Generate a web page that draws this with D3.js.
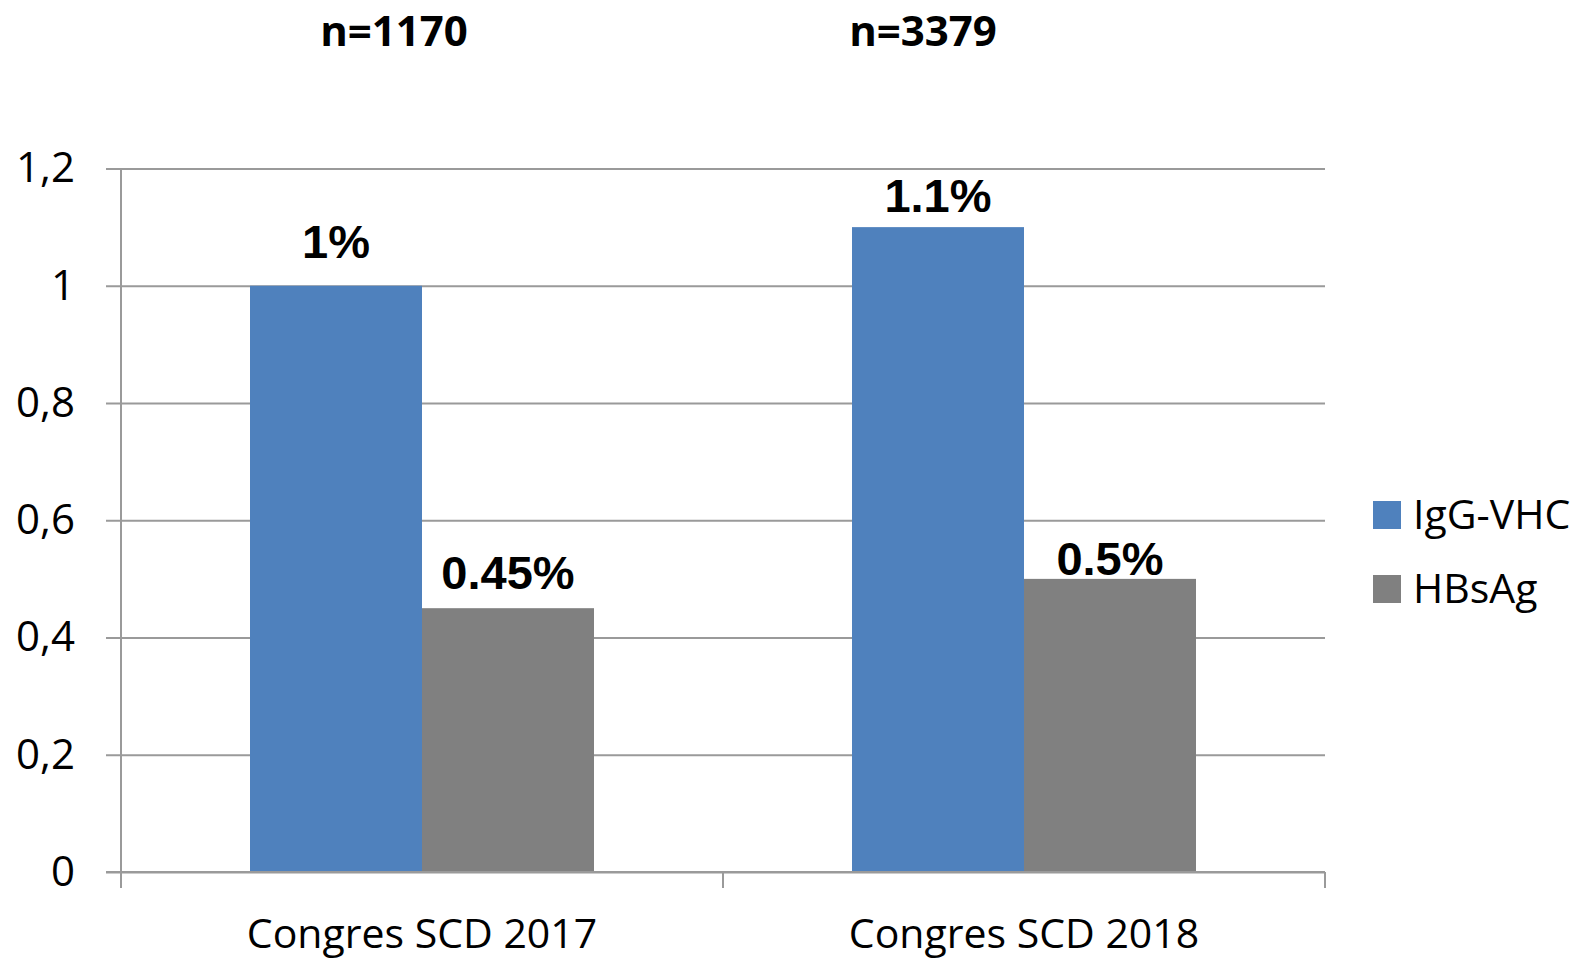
<!DOCTYPE html>
<html>
<head>
<meta charset="utf-8">
<script src="https://cdn.jsdelivr.net/npm/d3@7"></script>
<style>
  body { margin: 0; background: #fff; }
  svg text { font-family: "Open Sans", sans-serif; }
</style>
</head>
<body>
<div id="container"></div>
<script>
/* DATA */
const categories = ["Congres SCD 2017", "Congres SCD 2018"];
const sampleSizes = ["n=1170", "n=3379"];
const seriesNames = ["IgG-VHC", "HBsAg"];
const iggVhc = [1, 1.1];
const hbsAg = [0.45, 0.5];
const valueLabels = [["1%", "1.1%"], ["0.45%", "0.5%"]];
const yTicks = [0, 0.2, 0.4, 0.6, 0.8, 1, 1.2];

/* LAYOUT */
const width = 1582, height = 960,
  margin = { top: 168.5, bottom: 88, left: 121, right: 257 };
const colors = ["#4f81bd", "#808080"];
// the value labels sit at slightly different heights above their bars
const labelLift = [[28, 15], [19, 4]];
const nOffset = [-28, -101];

const svg = d3.select("#container")
  .append("svg")
  .attr("width", width)
  .attr("height", height);

const yScale = d3.scaleLinear()
  .domain([0, 1.2])
  .range([height - margin.bottom, margin.top]);

const xScale = d3.scaleBand()
  .domain(categories)
  .range([margin.left, width - margin.right])
  .paddingInner(0)
  .paddingOuter(0);

const xInner = d3.scaleBand()
  .domain(seriesNames)
  .range([0, xScale.bandwidth()])
  .paddingOuter(0.75)
  .paddingInner(0);

// gridlines + y axis
const yAxis = d3.axisLeft(yScale)
  .tickValues(yTicks)
  .tickSize(-(width - margin.left - margin.right))
  .tickPadding(46)
  .tickFormat(d => String(d).replace(".", ","));

const gy = svg.append("g")
  .attr("transform", `translate(${margin.left}, 0)`)
  .call(yAxis);
gy.select(".domain").remove();
gy.selectAll(".tick line")
  .attr("x1", -15)
  .attr("stroke", "#9a9a9a")
  .attr("stroke-width", 2);
gy.selectAll(".tick text")
  .attr("font-size", 42)
  .attr("fill", "#000");

// y axis vertical line
svg.append("line")
  .attr("x1", margin.left).attr("x2", margin.left)
  .attr("y1", margin.top).attr("y2", height - margin.bottom + 16)
  .attr("stroke", "#9a9a9a").attr("stroke-width", 2);

// bars
const series = [iggVhc, hbsAg];
series.forEach((vals, si) => {
  svg.append("g")
    .selectAll("rect")
    .data(vals)
    .join("rect")
    .attr("x", (d, i) => xScale(categories[i]) + xInner(seriesNames[si]))
    .attr("width", xInner.bandwidth())
    .attr("y", d => yScale(d))
    .attr("height", d => yScale(0) - yScale(d))
    .attr("fill", colors[si]);

  svg.append("g")
    .selectAll("text")
    .data(vals)
    .join("text")
    .attr("x", (d, i) => xScale(categories[i]) + xInner(seriesNames[si]) + xInner.bandwidth() / 2)
    .attr("y", (d, i) => yScale(d) - labelLift[si][i])
    .attr("text-anchor", "middle")
    .style("font-family", "'Liberation Sans', Arial, sans-serif")
    .attr("font-weight", "bold")
    .attr("font-size", 47)
    .text((d, i) => valueLabels[si][i]);
});

// x axis
const xAxis = d3.axisBottom(xScale).tickSize(0).tickPadding(47);
const gx = svg.append("g")
  .attr("transform", `translate(0, ${height - margin.bottom})`)
  .call(xAxis);
gx.select(".domain").attr("stroke", "#9a9a9a").attr("stroke-width", 2)
  .attr("d", `M${margin.left - 15},0H${width - margin.right}`);
gx.selectAll(".tick text").attr("font-size", 41).attr("fill", "#000");

// category separator ticks
const sepX = [margin.left, xScale(categories[1]), width - margin.right];
svg.append("g")
  .selectAll("line")
  .data(sepX)
  .join("line")
  .attr("x1", d => d).attr("x2", d => d)
  .attr("y1", height - margin.bottom)
  .attr("y2", height - margin.bottom + 16)
  .attr("stroke", "#9a9a9a").attr("stroke-width", 2);

// sample sizes above each group
svg.append("g")
  .selectAll("text")
  .data(sampleSizes)
  .join("text")
  .attr("x", (d, i) => xScale(categories[i]) + xScale.bandwidth() / 2 + nOffset[i])
  .attr("y", 46)
  .attr("text-anchor", "middle")
  .attr("font-weight", "bold")
  .attr("font-size", 42)
  .text(d => d);

// legend
const legend = svg.append("g").attr("transform", "translate(1373, 501)");
seriesNames.forEach((name, i) => {
  const row = legend.append("g").attr("transform", `translate(0, ${i * 74})`);
  row.append("rect").attr("width", 28).attr("height", 28).attr("fill", colors[i]);
  row.append("text")
    .attr("x", 40).attr("y", 14)
    .attr("dy", "0.35em")
    .attr("font-size", 41)
    .text(name);
});
</script>
</body>
</html>
